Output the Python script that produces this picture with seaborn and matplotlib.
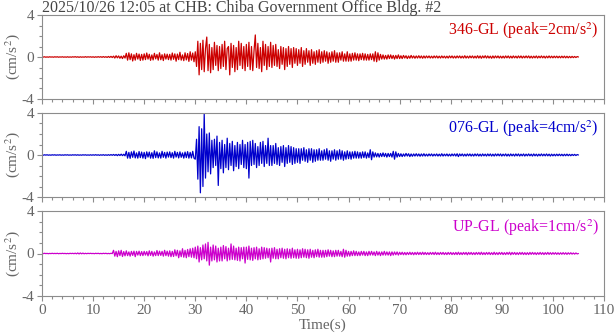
import numpy as np
import matplotlib
matplotlib.use("Agg")
import matplotlib.pyplot as plt
import seaborn as sns
from matplotlib.ticker import MultipleLocator

TITLE = "2025/10/26 12:05 at CHB: Chiba Government Office Bldg. #2"
DT = 0.25  # sample step of the traces (s)
components = ["346-GL", "076-GL", "UP-GL"]
peaks = [2, 4, 1]
colors = ["#cc0000", "#0000cc", "#cc00cc"]

# acceleration (cm/s^2), one value every 0.25 s, rows of 5 s
acc_346 = [
    .02, -.01, .02, -.02, .01, -.02, .02, -.01, .01, -.02, .02, -.01, .02, -.02, .01, -.01, .02, -.02, .01, -.02,
    .02, -.02, .01, -.02, .02, -.01, .03, -.02, .02, -.03, .02, -.02, .01, -.02, .03, -.02, .02, -.01, .02, -.02,
    .02, -.03, .02, -.02, .03, -.02, .03, -.03, .04, -.03, .03, -.04, .05, -.04, .06, -.05, .08, -.1, .12, -.08,
    .1, -.12, .08, -.15, .12, -.1, .35, -.3, .4, -.25, .3, -.38, .22, -.3, .35, -.2, .28, -.33, .25, -.3,
    .3, -.25, .38, -.2, .26, -.32, .2, -.28, .35, -.18, .24, -.3, .4, -.26, .22, -.34, .3, -.2, .27, -.25,
    .25, -.3, .38, -.22, .3, -.4, .28, -.25, .45, -.3, .2, -.35, .4, -.28, .33, -.42, .5, -.3, .38, -.45,
    .5, -.9, 1.5, -1.7, 1.3, -1.2, 1.6, -1.4, .8, 1.9, -1.3, 1.2, -1.5, .9, -1.2, 1.4, -.8, 1.1, -1.3, 1.0,
    -1.1, 1.2, -.9, 1.5, -1.2, .8, 1.0, -1.7, 1.3, -1.0, 1.1, -1.4, .9, -1.2, 1.5, -.8, 1.3, -1.1, 1.0, -1.3,
    1.2, -.9, 1.4, -1.2, 1.0, -1.3, .6, 2.1, -1.0, 1.3, -1.1, .9, -1.4, 1.5, -.8, 1.2, -1.2, 1.0, -.9, 1.4,
    -1.0, 1.1, -.8, 1.2, -.9, .7, -1.1, 1.0, -.7, .9, -1.2, .8, -.9, 1.0, -.7, .8, -1.0, .9, -.6, .8,
    -.8, .7, -.6, .9, -.9, .6, -.7, .8, -.5, .6, -.8, .7, -.6, .5, -.7, .6, -.5, .7, -.6, .5,
    -.5, .6, -.4, .5, -.6, .4, -.5, .5, -.4, .6, -.5, .4, -.5, .4, -.3, .5, -.4, .3, -.4, .5,
    -.4, .3, -.4, .35, -.3, .4, -.3, .3, -.35, .3, -.25, .35, -.3, .3, -.3, .25, -.3, .3, -.25, .3,
    -.4, .5, -.45, .4, -.3, .25, -.2, .2, -.2, .15, -.2, .2, -.15, .2, -.15, .15, -.2, .15, -.15, .2,
    -.15, .12, -.15, .15, -.1, .12, -.15, .1, -.12, .15, -.1, .1, -.12, .1, -.1, .12, -.1, .1, -.12, .1,
    -.1, .1, -.08, .1, -.1, .08, -.1, .1, -.08, .1, -.1, .08, -.1, .1, -.08, .08, -.1, .08, -.1, .1,
    -.08, .1, -.1, .08, -.1, .1, -.08, .1, -.1, .08, -.1, .12, -.1, .08, -.1, .1, -.08, .1, -.1, .08,
    -.1, .12, -.1, .1, -.12, .1, -.08, .12, -.1, .1, -.1, .08, -.12, .1, -.1, .1, -.08, .1, -.1, .08,
    -.1, .08, -.1, .1, -.08, .1, -.1, .08, -.1, .1, -.08, .08, -.1, .1, -.08, .1, -.1, .08, -.08, .1,
    -.08, .1, -.1, .08, -.1, .08, -.08, .1, -.1, .08, -.08, .1, -.08, .08, -.1, .08, -.08, .1, -.08, .08,
    -.08, .08, -.07, .08, -.08, .07, -.08, .08, -.07, .08, -.08, .07, -.08, .06, -.07, .06, -.06, .05, -.05, .04,
    0,
]

acc_076 = [
    .01, -.02, .02, -.01, .02, -.02, .01, -.02, .02, -.01, .02, -.02, .01, -.01, .02, -.02, .01, -.02, .02, -.01,
    .02, -.02, .01, -.02, .02, -.01, .02, -.02, .02, -.02, .01, -.02, .02, -.01, .02, -.02, .01, -.02, .02, -.02,
    .02, -.02, .03, -.02, .02, -.03, .02, -.02, .03, -.03, .02, -.03, .03, -.03, .04, -.03, .05, -.04, .05, -.06,
    .06, -.05, .08, -.06, .07, -.08, .35, -.3, .25, -.32, .3, -.22, .38, -.28, .2, -.3, .33, -.25, .28, -.3,
    .25, -.35, .3, -.2, .28, -.3, .22, -.32, .4, -.25, .3, -.28, .2, -.3, .35, -.22, .25, -.3, .28, -.2,
    .3, -.25, .22, -.3, .35, -.2, .25, -.28, .3, -.22, .2, -.3, .28, -.25, .32, -.3, .25, -.28, .35, -.3,
    -.4, 1.5, -2.3, 2.7, -3.6, 2.5, -3.0, 3.9, -2.2, 2.0, -1.6, 2.1, -1.8, 1.4, -1.2, 1.5, -1.0, 1.8, -2.9, 1.2,
    -1.3, 1.4, -1.7, 1.0, -1.2, 1.6, -1.4, 1.1, -1.0, 1.3, -1.5, .9, -1.1, 1.2, -1.3, 1.0, -.9, 1.4, -1.2, 1.0,
    -1.3, 1.2, -2.2, 1.3, -1.0, 1.4, -.9, 1.1, -1.2, .8, -1.0, 1.2, -.8, 1.3, -1.1, .9, -.8, 1.6, -1.0, .9,
    -1.0, .9, -.8, 1.1, -.9, .7, -1.0, .8, -.7, .9, -1.1, .7, -.8, .9, -.7, .8, -.9, .7, -.8, .6,
    -.7, .6, -.8, .6, -.5, .7, -.6, .5, -.7, .6, -.5, .6, -.7, .5, -.6, .5, -.5, .6, -.5, .4,
    -.5, .5, -.4, .6, -.5, .4, -.6, .4, -.4, .5, -.5, .4, -.4, .5, -.4, .4, -.5, .3, -.4, .4,
    -.35, .3, -.4, .3, -.3, .35, -.3, .3, -.3, .25, -.3, .3, -.25, .3, -.3, .2, -.25, .5, -.45, .3,
    -.2, .2, -.18, .15, -.2, .15, -.15, .2, -.15, .15, -.2, .15, -.15, .15, -.2, .35, -.4, .3, -.2, .15,
    -.15, .12, -.15, .1, -.12, .15, -.1, .12, -.15, .1, -.12, .1, -.1, .12, -.1, .1, -.12, .1, -.1, .12,
    -.1, .08, -.1, .1, -.08, .1, -.1, .08, -.08, .1, -.1, .08, -.1, .12, -.1, .08, -.08, .1, -.1, .08,
    -.1, .1, -.08, .1, -.1, .12, -.15, .1, -.08, .1, -.1, .08, -.1, .1, -.08, .1, -.1, .08, -.1, .1,
    -.08, .1, -.1, .08, -.1, .1, -.08, .08, -.1, .1, -.08, .1, -.1, .08, -.1, .1, -.08, .1, -.08, .1,
    -.1, .08, -.08, .1, -.1, .08, -.1, .1, -.08, .08, -.1, .1, -.08, .1, -.1, .08, -.08, .1, -.1, .08,
    -.08, .1, -.08, .08, -.1, .1, -.08, .08, -.1, .08, -.08, .1, -.08, .08, -.08, .1, -.08, .08, -.1, .08,
    -.08, .07, -.08, .08, -.07, .08, -.07, .07, -.08, .07, -.07, .08, -.07, .06, -.07, .06, -.05, .06, -.05, .04,
    0,
]

acc_up = [
    .01, -.01, .02, -.01, .01, -.02, .01, -.01, .02, -.01, .01, -.01, .02, -.02, .01, -.01, .02, -.01, .01, -.02,
    .01, -.02, .02, -.01, .02, -.02, .03, -.03, .05, -.04, .05, -.03, .04, -.03, .02, -.02, .02, -.01, .02, -.01,
    .01, -.02, .02, -.01, .02, -.02, .01, -.02, .02, -.01, .02, -.02, .01, -.02, .02, -.01, .3, -.25, .2, -.3,
    .25, -.2, .3, -.28, .18, -.22, .25, -.2, .15, -.25, .2, -.18, .22, -.3, .2, -.15, .22, -.2, .18, -.2,
    .2, -.15, .18, -.22, .25, -.18, .2, -.25, .15, -.2, .28, -.2, .22, -.18, .2, -.25, .3, -.2, .22, -.25,
    .25, -.3, .2, -.28, .35, -.22, .3, -.4, .25, -.3, .45, -.35, .3, -.4, .38, -.3, .45, -.35, .5, -.4,
    .6, -.5, .7, -.8, .55, -.6, .8, -.5, .9, -.7, 1.05, -1.1, .6, -.7, .8, -.6, .7, -.8, .5, -.7,
    .6, -.7, .75, -.5, .65, -.7, .5, -.6, .9, -.55, .7, -.6, .5, -.65, .6, -.7, .55, -.5, .6, -.9,
    .6, -.55, .7, -.6, .5, -.65, .55, -.5, .6, -.6, .45, -.55, .6, -.5, .55, -.45, .5, -.4, .45, -.8,
    .5, -.45, .55, -.5, .4, -.5, .45, -.4, .5, -.45, .4, -.5, .45, -.4, .4, -.45, .5, -.4, .35, -.45,
    .4, -.45, .35, -.4, .45, -.35, .4, -.4, .35, -.45, .4, -.35, .3, -.4, .35, -.3, .4, -.35, .3, -.35,
    .3, -.35, .3, -.3, .35, -.25, .3, -.3, .25, -.3, .3, -.25, .3, -.25, .2, -.3, .4, -.35, .3, -.25,
    .2, -.25, .2, -.2, .25, -.2, .2, -.2, .15, -.2, .2, -.15, .2, -.2, .15, -.2, .2, -.15, .2, -.15,
    .15, -.2, .2, -.15, .15, -.2, .15, -.15, .2, -.15, .15, -.15, .15, -.2, .15, -.15, .15, -.12, .15, -.15,
    .12, -.1, .12, -.12, .1, -.12, .1, -.1, .12, -.1, .1, -.12, .1, -.1, .12, -.1, .1, -.1, .12, -.1,
    .1, -.1, .08, -.1, .1, -.08, .1, -.1, .12, -.1, .08, -.1, .1, -.08, .1, -.1, .08, -.1, .1, -.08,
    .1, -.1, .08, -.1, .1, -.1, .12, -.1, .08, -.1, .1, -.08, .1, -.12, .1, -.08, .1, -.1, .08, -.1,
    .1, -.08, .1, -.1, .12, -.1, .08, -.1, .1, -.08, .1, -.1, .08, -.1, .12, -.1, .08, -.1, .1, -.08,
    .1, -.1, .08, -.1, .1, -.08, .12, -.12, .1, -.08, .1, -.1, .08, -.1, .1, -.08, .1, -.1, .08, -.1,
    .08, -.1, .1, -.08, .1, -.08, .08, -.1, .08, -.08, .1, -.08, .08, -.1, .08, -.08, .1, -.08, .08, -.08,
    .08, -.07, .08, -.08, .07, -.08, .07, -.07, .08, -.07, .07, -.08, .07, -.06, .07, -.06, .05, -.06, .05, -.04,
    0,
]

traces = [acc_346, acc_076, acc_up]

sns.set_style("ticks")
plt.rcParams["font.family"] = ["Liberation Serif", "DejaVu Serif"]
plt.rcParams["mathtext.fontset"] = "stix"
plt.rcParams["axes.unicode_minus"] = False

spine_c = "#8c8c8c"
text_c = "#666666"

fig = plt.figure(figsize=(6.16, 3.34), dpi=100)
# panel boxes in pixels: (top, bottom)
rows = [(15, 99), (113, 197), (211, 296)]
W, H = 616, 334

for i, (vals, comp, pk, c) in enumerate(zip(traces, components, peaks, colors)):
    top, bot = rows[i]
    ax = fig.add_axes([42 / W, (H - bot) / H, 562 / W, (bot - top) / H])
    t = np.arange(len(vals)) * DT
    sns.lineplot(x=t, y=vals, ax=ax, color=c, lw=0.9, estimator=None)
    ax.set_xlim(0, 110)
    ax.set_ylim(-4, 4)
    ax.set_yticks([-4, 0, 4])
    ax.yaxis.set_minor_locator(MultipleLocator(1))
    ax.xaxis.set_major_locator(MultipleLocator(10))
    ax.xaxis.set_minor_locator(MultipleLocator(2))
    ax.tick_params(which="both", direction="out", color=spine_c, width=0.8,
                   labelcolor=text_c, labelsize=11, pad=2)
    ax.tick_params(which="major", length=3.5)
    ax.tick_params(which="minor", length=2)
    for s in ax.spines.values():
        s.set_color(spine_c)
        s.set_linewidth(0.8)
    ax.set_ylabel("(cm/s$^2$)", color=text_c, fontsize=11)
    ax.yaxis.set_label_coords(-0.036, 0.5)
    ax.text(0.991, 0.93, f"{comp} (peak={pk}cm/s$^2$)", transform=ax.transAxes,
            ha="right", va="top", color=c, fontsize=11.5)
    if i < 2:
        ax.tick_params(labelbottom=False)
        ax.set_xlabel("")
    else:
        ax.set_xlabel("Time(s)", color=text_c, fontsize=11, labelpad=1)

fig.text(42 / W, 1 - 11.5 / H, TITLE, ha="left", va="baseline", color="#444444", fontsize=11.5)

fig.savefig("out.png", dpi=100)
